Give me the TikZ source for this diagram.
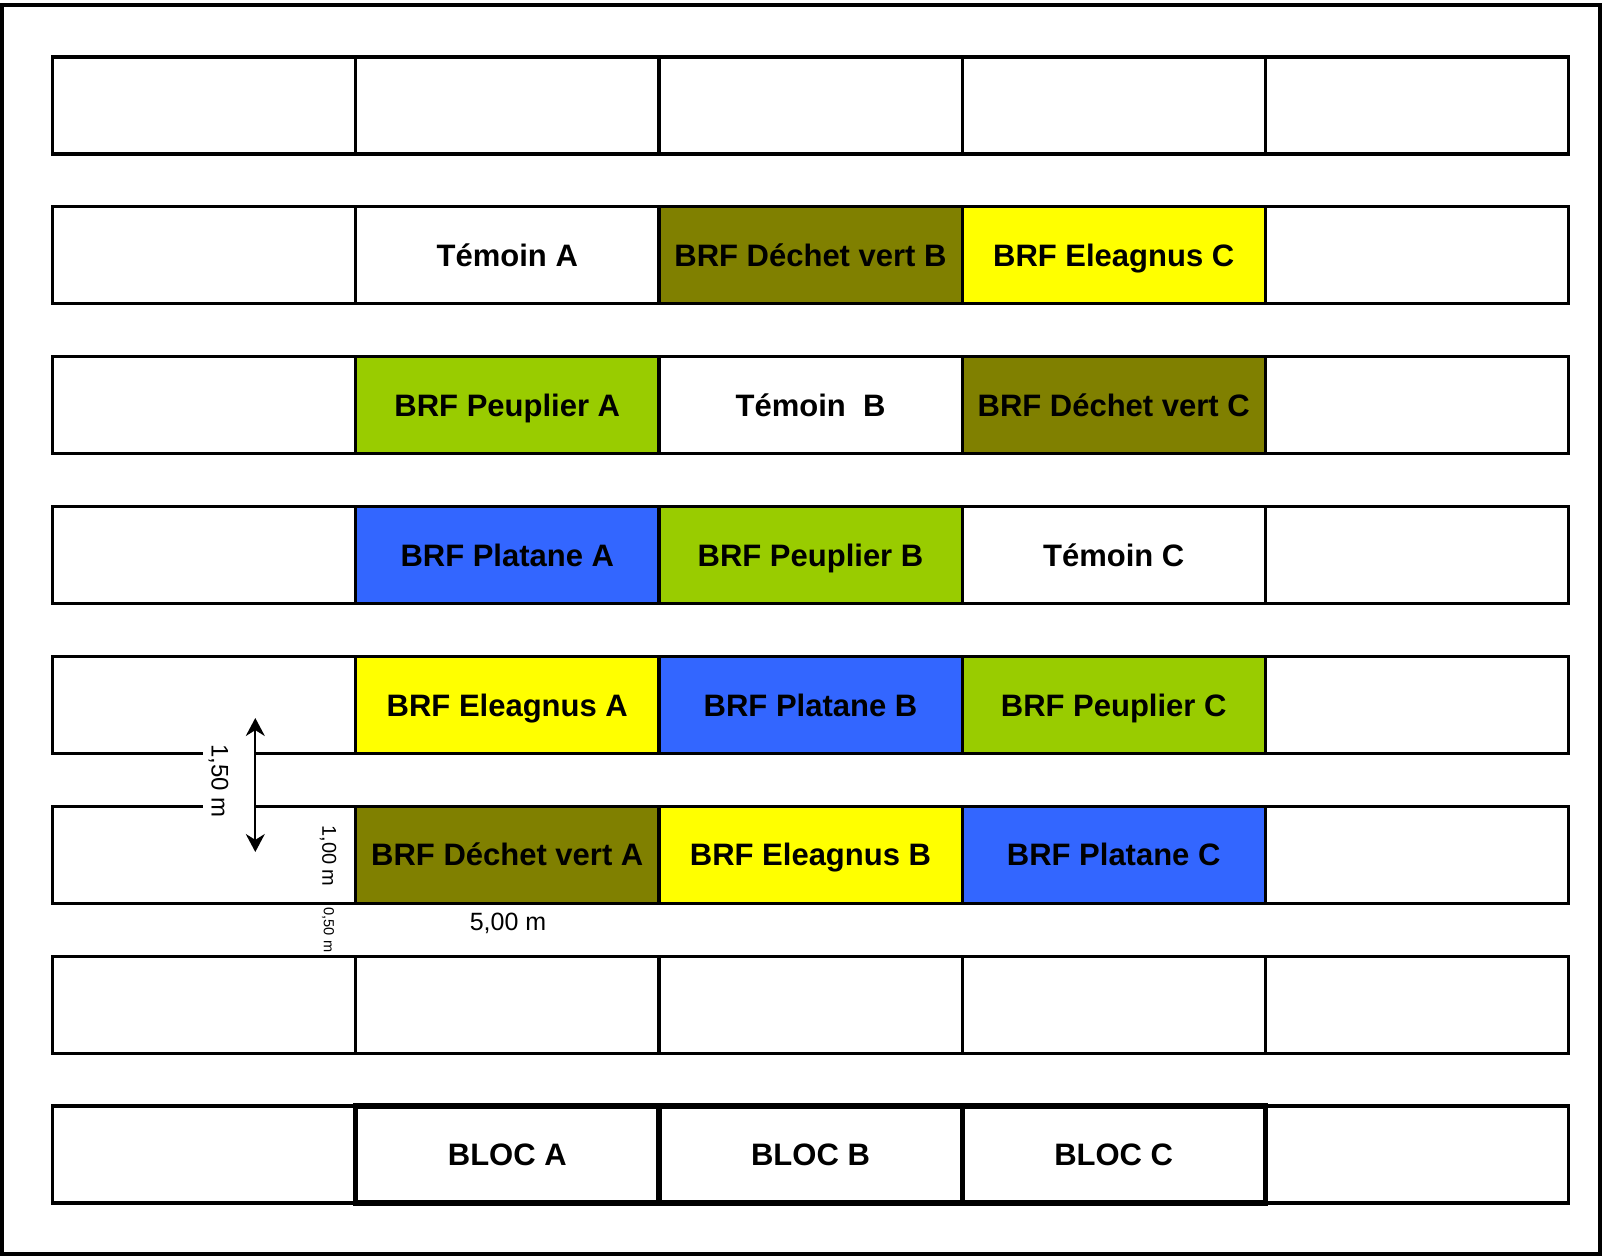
\documentclass[tikz,border=0pt]{standalone}
\usepackage{fontspec}
\setmainfont{Liberation Sans}
\usetikzlibrary{arrows.meta}
\definecolor{olivebrf}{HTML}{808000}
\definecolor{yellowbrf}{HTML}{FFFF00}
\definecolor{greenbrf}{HTML}{99CC00}
\definecolor{bluebrf}{HTML}{3366FF}
\tikzset{
  cell/.style={draw=black, line width=1.6pt, minimum width=151.6pt, minimum height=48.5pt,
    inner sep=0pt, text height=11.1pt, text depth=0pt, font=\bfseries\fontsize{15.5}{18}\selectfont},
  blocbox/.style={cell, line width=2.6pt},
  dimlabel/.style={inner sep=0pt, rotate=-90},
}
\newcommand\plcell[6][cell]{\node[#1, fill=#5] (#2) at ({52.5+303.2*(#3-0.5)},{57+149.86*(#4-1)+48.5}) {#6};}
\begin{document}
\begin{tikzpicture}[x=0.5pt,y=-0.5pt]
\useasboundingbox (0,0) rectangle (1605,1256);
\draw[line width=2pt] (2,5) rectangle (1600,1254);
% row 1
\plcell{r1c1}{1}{1}{white}{}
\plcell{r1c2}{2}{1}{white}{}
\plcell{r1c3}{3}{1}{white}{}
\plcell{r1c4}{4}{1}{white}{}
\plcell{r1c5}{5}{1}{white}{}
% row 2
\plcell{r2c1}{1}{2}{white}{}
\plcell{r2c2}{2}{2}{white}{Témoin A}
\plcell{r2c3}{3}{2}{olivebrf}{BRF Déchet vert B}
\plcell{r2c4}{4}{2}{yellowbrf}{BRF Eleagnus C}
\plcell{r2c5}{5}{2}{white}{}
% row 3
\plcell{r3c1}{1}{3}{white}{}
\plcell{r3c2}{2}{3}{greenbrf}{BRF Peuplier A}
\plcell{r3c3}{3}{3}{white}{Témoin\ \ B}
\plcell{r3c4}{4}{3}{olivebrf}{BRF Déchet vert C}
\plcell{r3c5}{5}{3}{white}{}
% row 4
\plcell{r4c1}{1}{4}{white}{}
\plcell{r4c2}{2}{4}{bluebrf}{BRF Platane A}
\plcell{r4c3}{3}{4}{greenbrf}{BRF Peuplier B}
\plcell{r4c4}{4}{4}{white}{Témoin C}
\plcell{r4c5}{5}{4}{white}{}
% row 5
\plcell{r5c1}{1}{5}{white}{}
\plcell{r5c2}{2}{5}{yellowbrf}{BRF Eleagnus A}
\plcell{r5c3}{3}{5}{bluebrf}{BRF Platane B}
\plcell{r5c4}{4}{5}{greenbrf}{BRF Peuplier C}
\plcell{r5c5}{5}{5}{white}{}
% row 6
\plcell{r6c1}{1}{6}{white}{}
\plcell{r6c2}{2}{6}{olivebrf}{BRF Déchet vert A}
\plcell{r6c3}{3}{6}{yellowbrf}{BRF Eleagnus B}
\plcell{r6c4}{4}{6}{bluebrf}{BRF Platane C}
\plcell{r6c5}{5}{6}{white}{}
% row 7
\plcell{r7c1}{1}{7}{white}{}
\plcell{r7c2}{2}{7}{white}{}
\plcell{r7c3}{3}{7}{white}{}
\plcell{r7c4}{4}{7}{white}{}
\plcell{r7c5}{5}{7}{white}{}
% row 8
\plcell{r8c1}{1}{8}{white}{}
\plcell{r8c5}{5}{8}{white}{}
\plcell[blocbox]{r8c2}{2}{8}{white}{BLOC A}
\plcell[blocbox]{r8c3}{3}{8}{white}{BLOC B}
\plcell[blocbox]{r8c4}{4}{8}{white}{BLOC C}
% dimension annotations
\fill[white] (203,740) rectangle (254,822);
\node[dimlabel, font=\fontsize{12}{14}\selectfont] (d150) at (218.5,781) {1,50 m};
\coordinate (atop) at (255.3,718);
\coordinate (abot) at (255.3,852);
\draw[line width=1pt, {Stealth[length=9pt,width=9.5pt]}-{Stealth[length=9pt,width=9.5pt]}] (atop) -- (abot);
\node[dimlabel, font=\fontsize{10}{12}\selectfont] (d100) at (328,856) {1,00 m};
\node[dimlabel, font=\fontsize{7.3}{9}\selectfont] (d050) at (328,930) {0,50 m};
\node[inner sep=0pt, font=\fontsize{12.5}{14}\selectfont] (d500) at (508,923) {5,00 m};
\end{tikzpicture}
\end{document}
